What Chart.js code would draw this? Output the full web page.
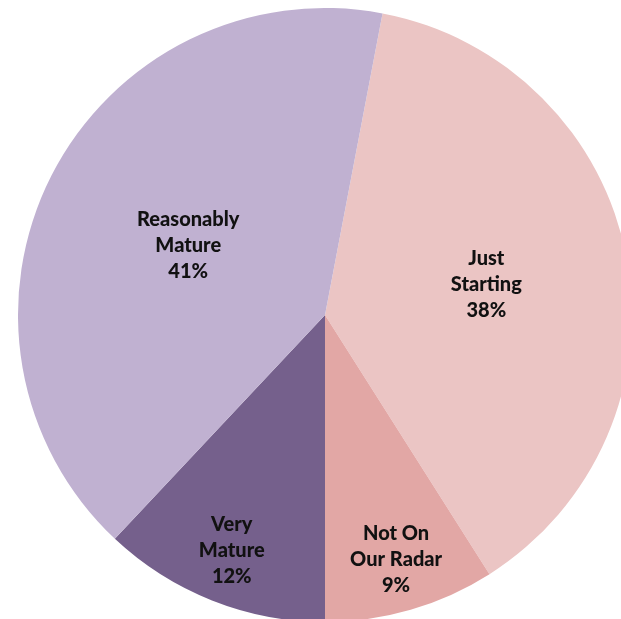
<!DOCTYPE html>
<html>
<head>
<meta charset="utf-8">
<script src="https://cdn.jsdelivr.net/npm/chart.js@4"></script>
<style>
  html, body { margin: 0; padding: 0; background: #fff; overflow: hidden; width: 621px; height: 619px; }
  #wrap { position: absolute; left: 18px; top: 8px; width: 614px; height: 614px; }
</style>
</head>
<body>
<div id="wrap"><canvas id="maturityChart" width="614" height="614"></canvas></div>
<script>
const categories = ["Just Starting", "Not On Our Radar", "Very Mature", "Reasonably Mature"];
const labelLines = [["Just", "Starting"], ["Not On", "Our Radar"], ["Very", "Mature"], ["Reasonably", "Mature"]];
const shares = [38, 9, 12, 41];
const sliceColors = ["#EBC5C4", "#E2A7A5", "#75608C", "#C0B1D1"];

// how far out (fraction of radius) each label sits
const labelRadius = [0.535, 0.83, 0.825, 0.5];

const sliceLabels = {
  id: "sliceLabels",
  afterDatasetsDraw(chart) {
    const ctx = chart.ctx;
    const meta = chart.getDatasetMeta(0);
    ctx.save();
    ctx.font = "900 20px Lato, 'Liberation Sans', sans-serif";
    ctx.fillStyle = "#111";
    ctx.textAlign = "center";
    ctx.textBaseline = "middle";
    meta.data.forEach((arc, i) => {
      const p = arc.getProps(["x", "y", "startAngle", "endAngle", "outerRadius"], true);
      const mid = (p.startAngle + p.endAngle) / 2;
      const r = p.outerRadius * labelRadius[i];
      const cx = p.x + Math.cos(mid) * r;
      const cy = p.y + Math.sin(mid) * r;
      const lines = labelLines[i].concat([shares[i] + "%"]);
      const lh = 26;
      lines.forEach((t, j) => {
        ctx.fillText(t, cx, cy + (j - (lines.length - 1) / 2) * lh);
      });
    });
    ctx.restore();
  }
};

new Chart(document.getElementById("maturityChart"), {
  type: "pie",
  data: {
    labels: categories,
    datasets: [{
      data: shares,
      backgroundColor: sliceColors,
      borderWidth: 0
    }]
  },
  options: {
    responsive: false,
    animation: false,
    rotation: 10.8,
    layout: { padding: 0 },
    plugins: {
      legend: { display: false },
      tooltip: { enabled: false }
    }
  },
  plugins: [sliceLabels]
});
</script>
</body>
</html>
